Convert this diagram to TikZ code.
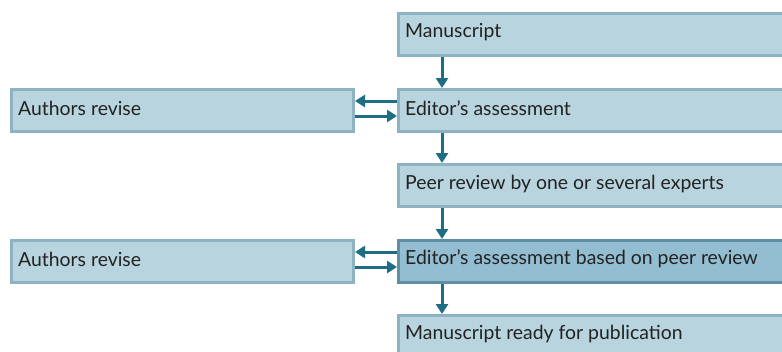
\documentclass[tikz,border=0pt]{standalone}
\usepackage{fontspec}
\setmainfont{Lato}
\usetikzlibrary{arrows.meta}
\definecolor{boxfill}{HTML}{B8D4DE}
\definecolor{boxline}{HTML}{8DB2C1}
\definecolor{darkfill}{HTML}{93BDD0}
\definecolor{darkline}{HTML}{5E8FA4}
\definecolor{flow}{HTML}{1D6D84}
\definecolor{txt}{HTML}{222222}
\tikzset{
  stepbox/.style={draw=boxline, fill=boxfill, line width=3pt, rectangle,
    anchor=north west, inner sep=0pt, minimum height=#1},
  stepbox/.default=42pt,
  keybox/.style={stepbox, draw=darkline, fill=darkfill},
  label/.style={anchor=west, text=txt, inner sep=0pt,
    font=\fontsize{19.4}{21}\selectfont},
  flowarrow/.style={draw=flow, line width=3pt, -{Triangle[length=10pt,width=12pt]}},
}
\begin{document}
\begin{tikzpicture}[x=1pt,y=-1pt]
\clip (0,0) rectangle (782,351);
\fill[white] (0,0) rectangle (782,351);
% main column
\node[stepbox, minimum width=400pt] (m) at (397,12) {};
\node[stepbox, minimum width=400pt] (e1) at (397,88) {};
\node[stepbox, minimum width=400pt] (p) at (397,163) {};
\node[keybox, minimum width=400pt] (e2) at (397,239) {};
\node[stepbox, minimum width=400pt, minimum height=60pt] (r) at (397,314) {};
% side boxes
\node[stepbox, minimum width=342pt] (a1) at (10,88) {};
\node[stepbox, minimum width=342pt] (a2) at (10,239) {};
% labels
\node[label] (tm) at (405,32) {Manuscript};
\node[label] (te1) at (405,108) {Editor’s assessment};
\node[label] (tp) at (405,184) {Peer review by one or several experts};
\node[label] (te2) at (405,259) {Editor’s assessment based on peer review};
\node[label] (tr) at (405,334) {Manuscript ready for publication};
\node[label] (ta1) at (18,108) {Authors revise};
\node[label] (ta2) at (18,259) {Authors revise};
% connectors
\draw[flowarrow] (m.south west) ++(45,0) coordinate (s1) -- (s1 |- e1.north);
\draw[flowarrow] (e1.south west) ++(45,0) coordinate (s2) -- (s2 |- p.north);
\draw[flowarrow] (p.south west) ++(45,0) coordinate (s3) -- (s3 |- e2.north);
\draw[flowarrow] (e2.south west) ++(45,0) coordinate (s4) -- (s4 |- r.north);
\draw[flowarrow] (e1.west |- 0,101) -- (a1.east |- 0,101);
\draw[flowarrow] (a1.east |- 0,116) -- (e1.west |- 0,116);
\draw[flowarrow] (e2.west |- 0,252) -- (a2.east |- 0,252);
\draw[flowarrow] (a2.east |- 0,267) -- (e2.west |- 0,267);
\end{tikzpicture}
\end{document}
